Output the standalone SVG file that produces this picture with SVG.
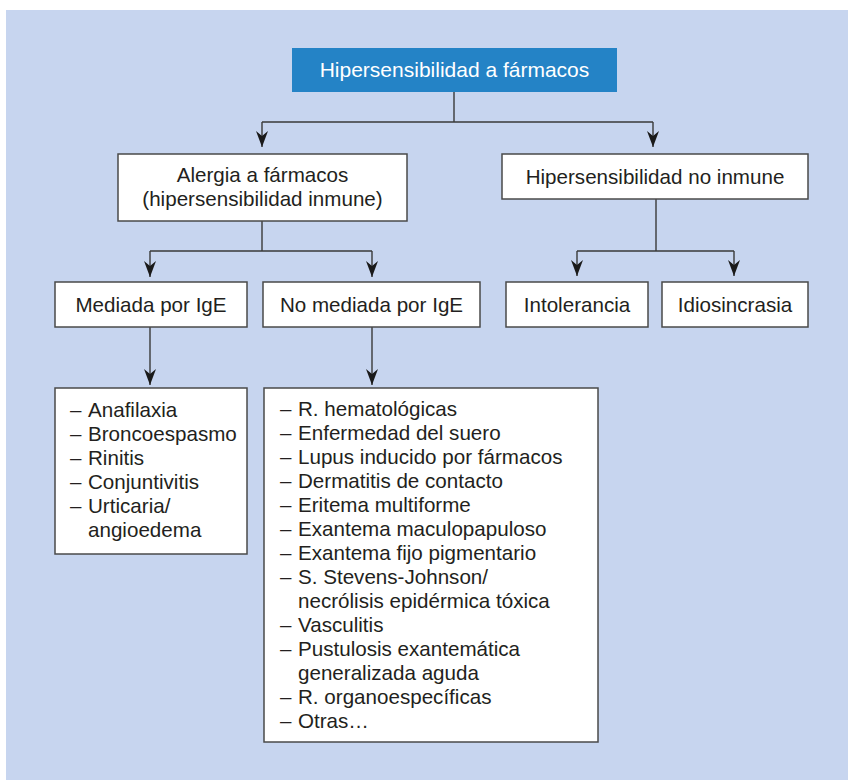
<svg xmlns="http://www.w3.org/2000/svg" width="848" height="780" viewBox="0 0 848 780">
  <defs>
    <marker id="arr" viewBox="0 0 16 12" refX="16" refY="6" markerWidth="16" markerHeight="12" markerUnits="userSpaceOnUse" orient="auto">
      <path d="M0,0 L16,6 L0,12 L5,6 Z" fill="#1a1a1a"/>
    </marker>
  </defs>
  <style>
    .bg { fill: #c7d5ef; }
    .box { fill: #ffffff; stroke: #4a4a4a; stroke-width: 1.5; }
    .top { fill: #2483c6; }
    text { font-family: "Liberation Sans", Arial, sans-serif; font-size: 20.6px; fill: #231f20; }
    .t { font-size: 21px; }
    .c { text-anchor: middle; }
    .w { fill: #ffffff; }
    .ln { fill: none; stroke: #3a3a3a; stroke-width: 1.4; }
    .ar { fill: none; stroke: #3a3a3a; stroke-width: 1.4; marker-end: url(#arr); }
  </style>
  <rect width="848" height="780" fill="#ffffff"/>
  <rect class="bg" x="6" y="10" width="842" height="770"/>

  <g id="connectors">
    <path class="ln" d="M454,92 V122 M262,122 H653 M262,221 V251 M150,251 H372 M656,199 V251 M577,251 H734"/>
    <line class="ar" x1="262" y1="122" x2="262" y2="147"/>
    <line class="ar" x1="653" y1="122" x2="653" y2="147"/>
    <line class="ar" x1="150" y1="251" x2="150" y2="277"/>
    <line class="ar" x1="372" y1="251" x2="372" y2="277"/>
    <line class="ar" x1="577" y1="251" x2="577" y2="276"/>
    <line class="ar" x1="734" y1="251" x2="734" y2="276"/>
    <line class="ar" x1="150" y1="327" x2="150" y2="385"/>
    <line class="ar" x1="372" y1="327" x2="372" y2="385"/>
  </g>

  <g id="n-root">
    <rect class="top" x="292" y="48" width="325" height="44"/>
    <text class="c w t" x="454.5" y="77">Hipersensibilidad a fármacos</text>
  </g>

  <g id="n-alergia">
    <rect class="box" x="118" y="154" width="289" height="67"/>
    <text class="c" x="262.5" y="182">Alergia a fármacos</text>
    <text class="c" x="262.5" y="206">(hipersensibilidad inmune)</text>
  </g>

  <g id="n-noinmune">
    <rect class="box" x="502" y="154" width="306" height="45"/>
    <text class="c" x="655" y="184">Hipersensibilidad no inmune</text>
  </g>

  <g id="n-ige">
    <rect class="box" x="55" y="282" width="192" height="45"/>
    <text class="c" x="151" y="312">Mediada por IgE</text>
  </g>

  <g id="n-noige">
    <rect class="box" x="263" y="282" width="217" height="45"/>
    <text class="c" x="371.5" y="312">No mediada por IgE</text>
  </g>

  <g id="n-intolerancia">
    <rect class="box" x="506" y="282" width="142" height="45"/>
    <text class="c" x="577" y="312">Intolerancia</text>
  </g>

  <g id="n-idiosincrasia">
    <rect class="box" x="662" y="282" width="146" height="45"/>
    <text class="c" x="735" y="312">Idiosincrasia</text>
  </g>

  <g id="n-list-ige">
    <rect class="box" x="55" y="388" width="192" height="166"/>
    <text x="70" y="417">–</text><text x="88" y="417">Anafilaxia</text>
    <text x="70" y="441">–</text><text x="88" y="441">Broncoespasmo</text>
    <text x="70" y="465">–</text><text x="88" y="465">Rinitis</text>
    <text x="70" y="489">–</text><text x="88" y="489">Conjuntivitis</text>
    <text x="70" y="513">–</text><text x="88" y="513">Urticaria/</text>
    <text x="88" y="537">angioedema</text>
  </g>

  <g id="n-list-noige">
    <rect class="box" x="264" y="388" width="334" height="354"/>
    <text x="280" y="416">–</text><text x="298" y="416">R. hematológicas</text>
    <text x="280" y="440">–</text><text x="298" y="440">Enfermedad del suero</text>
    <text x="280" y="464">–</text><text x="298" y="464">Lupus inducido por fármacos</text>
    <text x="280" y="488">–</text><text x="298" y="488">Dermatitis de contacto</text>
    <text x="280" y="512">–</text><text x="298" y="512">Eritema multiforme</text>
    <text x="280" y="536">–</text><text x="298" y="536">Exantema maculopapuloso</text>
    <text x="280" y="560">–</text><text x="298" y="560">Exantema fijo pigmentario</text>
    <text x="280" y="584">–</text><text x="298" y="584">S. Stevens-Johnson/</text>
    <text x="298" y="608">necrólisis epidérmica tóxica</text>
    <text x="280" y="632">–</text><text x="298" y="632">Vasculitis</text>
    <text x="280" y="656">–</text><text x="298" y="656">Pustulosis exantemática</text>
    <text x="298" y="680">generalizada aguda</text>
    <text x="280" y="704">–</text><text x="298" y="704">R. organoespecíficas</text>
    <text x="280" y="728">–</text><text x="298" y="728">Otras…</text>
  </g>
</svg>
